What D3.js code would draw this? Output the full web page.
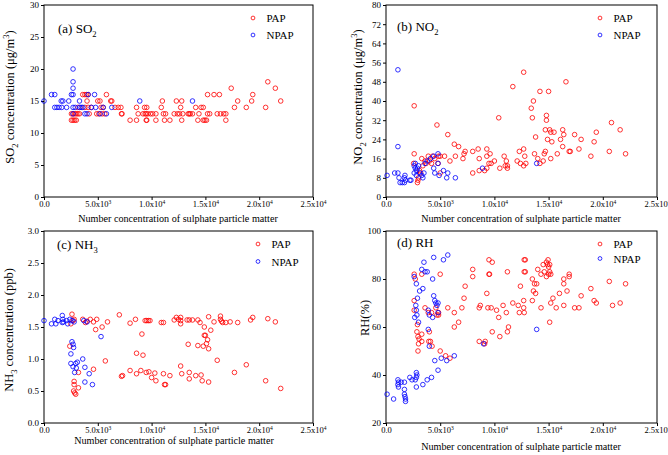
<!DOCTYPE html>
<html><head><meta charset="utf-8">
<script src="https://cdn.jsdelivr.net/npm/d3@7"></script>
<style>body{margin:0;background:#fff} text{font-family:"Liberation Serif","Times New Roman",serif;fill:#000}</style>
</head><body><svg id="c" width="668" height="455"></svg>
<script>
// ---- data ----
const xTicks = [0, 5000, 10000, 15000, 20000, 25000];
const xTickBase = ["0.0", "5.0x10", "1.0x10", "1.5x10", "2.0x10", "2.5x10"];
const xTickExp  = ["", "3", "4", "4", "4", "4"];
const seriesNames = ["PAP", "NPAP"];
const seriesColors = ["#ff0000", "#0000ff"];

const so2Ticks = [0, 5, 10, 15, 20, 25, 30];
const no2Ticks = [0, 8, 16, 24, 32, 40, 48, 56, 64, 72, 80];
const nh3Ticks = [0, 0.5, 1.0, 1.5, 2.0, 2.5, 3.0];
const rhTicks  = [20, 40, 60, 80, 100];

const so2NPAP = [[0,15],[700,16],[1000,16],[1000,14],[1200,14],[1400,14],[1650,14],[1600,15],[1750,15],[2100,14],[2300,15],[2550,16],[2700,20],[2700,18],[2700,17],[2700,16],[2700,14],[2700,13],[2900,14],[3300,15],[3300,14],[3450,14],[3600,14],[3800,13],[4000,13],[4100,16],[4400,14],[4700,16],[4800,14],[5200,13],[5500,14],[5800,13],[6300,14],[8900,15],[13800,15]];
const so2PAP = [[2550,13],[2700,13],[2850,13],[2550,12],[2700,12],[2850,12],[3000,12],[3000,13],[3150,13],[3300,13],[3150,14],[3600,16],[3800,16],[3950,16],[4100,16],[4000,15],[3800,14],[4100,14],[4400,14],[4200,13],[4900,13],[5100,13],[5400,13],[5650,13],[5000,15],[5200,15],[5300,14],[5500,14],[5800,16],[6200,15],[6300,15],[6600,14],[6900,14],[7150,14],[7200,13],[7250,13],[8000,12],[8600,12],[8600,14],[8750,13],[9200,13],[9400,13],[9500,13],[9650,13],[9350,14],[9550,14],[9500,12],[9550,12],[9900,13],[10100,13],[10400,13],[10400,12],[10900,14],[11000,15],[11100,13],[11300,13],[11200,12],[11700,12],[12100,13],[12300,15],[12400,13],[12600,13],[12700,14],[12800,15],[12800,12],[12900,13],[13400,13],[13500,13],[13600,13],[13800,13],[14100,14],[14300,12],[14400,13],[14600,14],[14800,14],[14800,12],[14950,12],[15100,12],[15200,16],[15200,13],[15400,13],[15800,16],[16300,16],[16100,13],[16400,13],[16700,13],[16900,13],[16900,12],[17400,17],[17700,14],[18000,15],[18800,14],[19300,15],[19400,16],[20600,14],[20800,18],[21500,17],[22000,15]];

const no2NPAP = [[100,9],[800,10],[1100,53],[1100,21],[1100,10],[1200,8],[1300,6],[1500,6],[1700,8],[1750,9],[1800,7],[1700,6],[2200,7],[2300,7],[2600,10],[2600,13],[2700,14],[2700,12],[2800,11],[2800,9],[2900,12],[3000,13],[3100,10],[3300,9],[3400,8],[3500,10],[3600,14],[3800,15],[4100,16],[4400,17],[4800,18],[4400,12],[4500,10],[4800,14],[4900,9],[5300,11],[5600,8],[5700,10],[6400,8],[8900,12],[13900,14]];
const no2PAP = [[2600,38],[2600,18],[2550,14],[2900,6],[2950,7],[3000,8],[3100,11],[3200,10],[3300,16],[3400,13],[3600,15],[3700,14],[3900,17],[4000,15],[4200,14],[4300,17],[4500,16],[4700,30],[4800,14],[4850,17],[5000,17],[5000,10],[5400,17],[5700,26],[5900,15],[6300,22],[6400,17],[6700,21],[7100,16],[7200,18],[7300,19],[8000,19],[8000,10],[8500,20],[8600,16],[8600,11],[9100,11],[9300,12],[9300,20],[9300,17],[9500,14],[9600,18],[9700,14],[10000,15],[10400,33],[10500,12],[10900,17],[11000,13],[11100,15],[11200,12],[11200,13],[11700,46],[12100,15],[12300,19],[12400,14],[12700,13],[12700,20],[12800,17],[12700,52],[12900,14],[13400,37],[13500,33],[13600,40],[13700,18],[13800,25],[14000,16],[14200,14],[14200,44],[14500,15],[14600,18],[14700,19],[14800,34],[14800,32],[14700,28],[14900,24],[15000,44],[15100,28],[15200,27],[15300,23],[15200,16],[15500,27],[15800,18],[16100,24],[16300,21],[16300,28],[16400,26],[16600,48],[16900,19],[17000,19],[17400,26],[17800,20],[18000,24],[18900,17],[19200,23],[19400,27],[20600,19],[20800,31],[21600,28],[22100,18]];

const nh3NPAP = [[0,1.6],[700,1.55],[1000,1.62],[1100,1.55],[1300,1.6],[1700,1.68],[1750,1.62],[1800,1.58],[1700,1.57],[2100,1.6],[2200,1.55],[2400,1.62],[2600,1.6],[2800,1.58],[2600,1.27],[2700,1.23],[2750,1.18],[2500,1.08],[2500,0.93],[2700,0.88],[2850,0.79],[2950,0.93],[3100,0.95],[3000,0.86],[3600,1.0],[3800,0.87],[3800,0.64],[4200,0.77],[4500,0.6],[5300,1.35],[3700,1.6],[4000,1.58]];
const nh3PAP = [[2600,1.7],[2500,1.55],[2400,1.2],[2700,1.6],[2800,1.62],[2800,0.65],[2800,0.6],[2750,0.5],[2850,0.47],[2950,0.45],[3200,0.55],[3200,0.79],[3600,1.62],[3850,1.57],[4000,1.59],[4300,1.62],[4600,1.58],[4800,1.46],[4600,0.84],[4900,1.62],[5400,1.5],[5700,0.97],[5900,1.58],[7000,1.69],[7200,0.73],[7300,0.74],[8000,1.56],[8000,0.82],[8500,1.62],[8600,1.09],[8600,0.77],[9000,0.82],[9100,1.39],[9200,1.06],[9400,1.6],[9550,1.6],[9700,1.6],[9850,1.6],[9500,0.79],[9750,0.8],[10000,0.71],[10300,0.78],[10400,0.66],[10900,1.57],[11100,1.57],[11100,0.77],[11200,0.6],[11300,0.6],[11700,0.74],[12100,1.61],[12300,1.65],[12500,1.62],[12700,1.65],[12700,1.6],[12700,1.55],[12700,0.89],[12800,0.77],[13300,1.61],[13500,1.61],[13400,1.23],[13500,0.79],[13500,0.69],[13800,1.61],[14100,0.74],[14300,1.61],[14300,1.21],[14500,1.57],[14600,0.75],[14700,0.66],[14800,1.2],[14900,1.5],[14900,1.37],[15000,1.37],[15100,1.24],[15200,1.3],[15300,1.16],[15300,0.64],[15300,1.66],[15500,1.45],[15800,1.58],[16100,0.98],[16400,1.67],[16400,1.62],[16500,1.59],[16600,1.57],[16900,1.57],[17300,1.58],[17700,0.79],[18000,1.57],[18800,0.91],[19200,1.61],[19400,1.65],[20600,0.66],[20800,1.63],[21500,1.58],[22000,0.54]];

const rhNPAP = [[100,32],[700,30],[1100,38],[1150,37],[1100,36],[1150,35],[1400,37],[1700,37],[1700,34],[1700,32],[1750,31],[1800,30],[1800,29],[2200,39],[2400,38],[2700,38],[2800,41],[2850,40],[2800,39],[2800,35],[2600,81],[2800,78],[2750,69],[2800,67],[2850,65],[2650,64],[2900,72],[3000,62],[3100,75],[3300,84],[3400,76],[3500,87],[3600,83],[3800,83],[3800,38],[3400,36],[3900,59],[3900,67],[4000,65],[4000,52],[4200,39],[4300,80],[4400,89],[4300,64],[4400,73],[4500,71],[4600,70],[4500,46],[4700,69],[4800,70],[4800,42],[4800,66],[5100,47],[5300,88],[5600,46],[5700,90],[6300,48],[9000,53],[13900,59]];
const rhPAP = [[2600,71],[2600,67],[2600,82],[2700,80],[2900,61],[2850,58],[2950,56],[3000,53],[2950,50],[3050,55],[3300,57],[3300,54],[3300,82],[3600,68],[3900,66],[3950,54],[4100,54],[4000,58],[4200,66],[4250,52],[4600,68],[4700,65],[4850,65],[4850,66],[5000,82],[5000,50],[5500,48],[5700,68],[5900,47],[6300,66],[6300,60],[6700,62],[7000,68],[7200,72],[7300,77],[8000,84],[8000,81],[8600,54],[8600,68],[8700,69],[9100,53],[9150,54],[9300,74],[9400,68],[9500,82],[9550,82],[9500,88],[9700,68],[9800,87],[9800,58],[10200,67],[10400,64],[10500,56],[10800,69],[11100,66],[11200,58],[11200,83],[11300,60],[11700,70],[12200,69],[12300,66],[12400,77],[12700,68],[12750,88],[12850,88],[12750,83],[12850,83],[12700,71],[12750,66],[13500,80],[13500,71],[13600,75],[13700,78],[13800,74],[13900,78],[14000,84],[14300,68],[14300,82],[14500,86],[14600,83],[14800,81],[14800,87],[14950,88],[14900,86],[15000,85],[15100,86],[15100,83],[15000,82],[15200,82],[15100,62],[15200,70],[15400,72],[15700,68],[16000,74],[16400,69],[16400,78],[16400,80],[16700,75],[16900,82],[16900,81],[17400,68],[17800,68],[18000,73],[18900,76],[19200,71],[19400,70],[20600,79],[20900,69],[21600,70],[22100,78]];

// ---- layout ----
const panels = [
  {L:44, R:313, T:5, B:197, pap:so2PAP, npap:so2NPAP, yDom:[0,30], yTicks:so2Ticks, fmt:d=>d3.format("d")(d),
   title:[["(a) SO",0],["2",1]], tx:58, ty:33,
   ylab:[["SO",0],["2",1],[" concentration (μg/m",0],["3",-1],[")",0]], ylx:14, lyc:97,
   xtx:178, xty:222, lgx:253, lgy:[18,35]},
  {L:386, R:657, T:5, B:197, pap:no2PAP, npap:no2NPAP, yDom:[0,80], yTicks:no2Ticks, fmt:d=>d3.format("d")(d),
   title:[["(b) NO",0],["2",1]], tx:397, ty:31,
   ylab:[["NO",0],["2",1],[" concentration (μg/m",0],["3",-1],[")",0]], ylx:362, lyc:97,
   xtx:521, xty:222, lgx:600, lgy:[18,35]},
  {L:44, R:313, T:231, B:423, pap:nh3PAP, npap:nh3NPAP, yDom:[0,3], yTicks:nh3Ticks, fmt:d=>d3.format(".1f")(d),
   title:[["(c) NH",0],["3",1]], tx:57, ty:249,
   ylab:[["NH",0],["3",1],[" concentration (ppb)",0]], ylx:13, lyc:330,
   xtx:174, xty:444, lgx:258, lgy:[244,261.5]},
  {L:386, R:657, T:231, B:423, pap:rhPAP, npap:rhNPAP, yDom:[20,100], yTicks:rhTicks, fmt:d=>d3.format("d")(d),
   title:[["(d) RH",0]], tx:397, ty:247,
   ylab:[["RH(%)",0]], ylx:369, lyc:318,
   xtx:521, xty:450, lgx:600, lgy:[244,258.5]}
];

const svg = d3.select("#c");
svg.append("rect").attr("width",668).attr("height",455).attr("fill","#fff");

// text with sub/superscripts: shift carried over to the next piece
function addRich(sel, parts, big, small) {
  let carry = 0;
  parts.forEach(([t, s]) => {
    const ts = sel.append("tspan").text(t);
    let dy = carry;
    if (s > 0) { ts.attr("font-size", small); dy += big * 0.3; carry = -big * 0.3; }
    else if (s < 0) { ts.attr("font-size", small); dy += -big * 0.4; carry = big * 0.4; }
    else carry = 0;
    if (dy !== 0) ts.attr("dy", dy);
  });
}

panels.forEach(p => {
  const g = svg.append("g");
  const x = d3.scaleLinear().domain([0, 25000]).range([p.L, p.R]);
  const y = d3.scaleLinear().domain(p.yDom).range([p.B, p.T]);

  // frame
  g.append("rect").attr("x", p.L).attr("y", p.T).attr("width", p.R - p.L).attr("height", p.B - p.T)
    .attr("fill", "none").attr("stroke", "#000").attr("stroke-width", 1);

  // x axis
  const xa = g.append("g").attr("transform", `translate(0,${p.B})`)
    .call(d3.axisBottom(x).tickValues(xTicks).tickSize(3).tickPadding(1).tickFormat(""));
  xa.select(".domain").remove();
  xa.selectAll(".tick line").attr("stroke", "#000");
  xa.selectAll(".tick text").each(function(d, i) {
    const t = d3.select(this).attr("font-size", 8.5).attr("font-family", '"Liberation Serif",serif')
      .attr("text-anchor", "middle");
    t.text(null);
    t.append("tspan").text(xTickBase[i]);
    if (xTickExp[i]) t.append("tspan").attr("font-size", 5.5).attr("dy", -3.5).text(xTickExp[i]);
  });

  // y axis
  const ya = g.append("g").attr("transform", `translate(${p.L},0)`)
    .call(d3.axisLeft(y).tickValues(p.yTicks).tickSize(3).tickPadding(2).tickFormat(p.fmt));
  ya.select(".domain").remove();
  ya.selectAll(".tick line").attr("stroke", "#000");
  ya.selectAll(".tick text").attr("font-size", 9).attr("font-family", '"Liberation Serif",serif');

  // points
  [p.pap, p.npap].forEach((data, si) => {
    g.append("g").selectAll("circle").data(data).join("circle")
      .attr("cx", d => x(d[0])).attr("cy", d => y(d[1])).attr("r", 2.3)
      .attr("fill", "none").attr("stroke", seriesColors[si]).attr("stroke-width", 0.8);
  });

  // title
  const tt = g.append("text").attr("x", p.tx).attr("y", p.ty).attr("font-size", 13);
  addRich(tt, p.title, 13, 8.5);

  // y label
  const yl = g.append("text").attr("transform", `translate(${p.ylx},${p.lyc}) rotate(-90)`)
    .attr("text-anchor", "middle").attr("font-size", 12.5);
  addRich(yl, p.ylab, 12.5, 8.5);

  // x label
  const xl = g.append("text").attr("x", p.xtx).attr("y", p.xty).attr("text-anchor", "middle")
    .attr("font-size", 10.5).text("Number concentration of sulphate particle matter");
  const w = xl.node().getComputedTextLength();
  xl.attr("font-size", 10.5 * 200 / w);

  // legend
  seriesNames.forEach((n, i) => {
    g.append("circle").attr("cx", p.lgx).attr("cy", p.lgy[i]).attr("r", 1.9)
      .attr("fill", "none").attr("stroke", seriesColors[i]).attr("stroke-width", 0.8);
    g.append("text").attr("x", p.lgx + 13.5).attr("y", p.lgy[i] + 4).attr("font-size", 11).text(n);
  });
});
</script></body></html>
